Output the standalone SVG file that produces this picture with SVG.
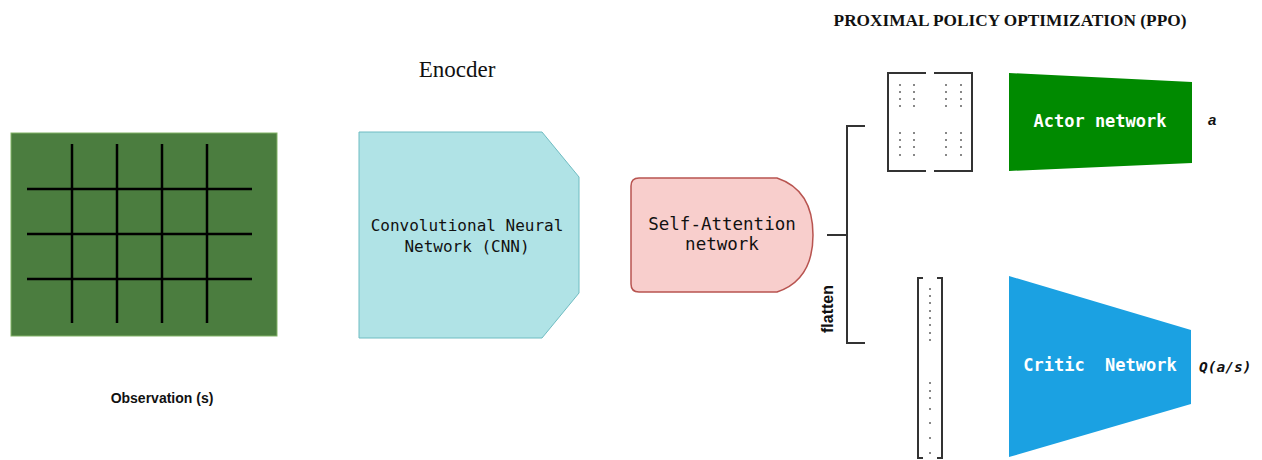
<svg xmlns="http://www.w3.org/2000/svg" width="1262" height="460" viewBox="0 0 1262 460">
<style>
.grid{stroke:#000;stroke-width:2.5;fill:none}
.mono{font-family:"DejaVu Sans Mono","Liberation Mono",monospace;fill:#111}
.wmono{font-family:"DejaVu Sans Mono","Liberation Mono",monospace;fill:#fff;font-weight:bold;font-size:17px}
.sans{font-family:"Liberation Sans",Arial,sans-serif;font-weight:bold;fill:#111}
.serif{font-family:"Liberation Serif","Times New Roman",serif;fill:#111}
.brk{stroke:#333;stroke-width:2;fill:none}
.dot{fill:#888}
</style>
<rect width="1262" height="460" fill="#fff"/>
<text class="serif" x="1010" y="26" font-size="17.3" font-weight="bold" text-anchor="middle">PROXIMAL POLICY OPTIMIZATION (PPO)</text>
<text class="serif" x="457" y="77" font-size="23" text-anchor="middle">Enocder</text>

<g id="observation">
<rect x="11" y="133" width="266" height="203" fill="#4b7d3f" stroke="#82b366" stroke-width="1"/>
<g class="grid">
<line x1="72" y1="144" x2="72" y2="323"/>
<line x1="117" y1="144" x2="117" y2="323"/>
<line x1="162" y1="144" x2="162" y2="323"/>
<line x1="207" y1="144" x2="207" y2="323"/>
<line x1="27" y1="189" x2="252" y2="189"/>
<line x1="27" y1="234" x2="252" y2="234"/>
<line x1="27" y1="279" x2="252" y2="279"/>
</g>
<text class="sans" x="162" y="403" font-size="14" text-anchor="middle">Observation (s)</text>
</g>

<g id="cnn">
<path d="M359,132 L542,132 L579,177 L579,293 L542,338 L359,338 Z" fill="#b0e3e6" stroke="#6fbcc2" stroke-width="1"/>
<text class="mono" x="467" y="231" font-size="16" text-anchor="middle">Convolutional Neural</text>
<text class="mono" x="467" y="252" font-size="16" text-anchor="middle">Network (CNN)</text>
</g>

<g id="self-attention">
<path d="M639,178 L777,178 Q813,190 813,235 Q813,280 777,292 L639,292 Q631,292 631,284 L631,186 Q631,178 639,178 Z" fill="#f8cecc" stroke="#b85450" stroke-width="1.5"/>
<text class="mono" x="722" y="230" font-size="17.5" text-anchor="middle">Self-Attention</text>
<text class="mono" x="722" y="250" font-size="17.5" text-anchor="middle">network</text>
</g>

<g id="connectors">
<path class="brk" d="M865,126 L847,126 L847,343 L865,343"/>
<line class="brk" x1="827" y1="235" x2="847" y2="235"/>
<text class="sans" transform="translate(833,309) rotate(-90)" font-size="16" text-anchor="middle">flatten</text>
</g>

<g id="actor-matrix">
<path class="brk" d="M926,73 L888,73 L888,171 L926,171"/>
<path class="brk" d="M934,73 L972,73 L972,171 L934,171"/>
<g class="dot">
<rect x="899" y="84" width="2" height="2"/><rect x="913" y="84" width="2" height="2"/><rect x="945" y="84" width="2" height="2"/><rect x="960" y="84" width="2" height="2"/>
<rect x="899" y="91" width="2" height="2"/><rect x="913" y="91" width="2" height="2"/><rect x="945" y="91" width="2" height="2"/><rect x="960" y="91" width="2" height="2"/>
<rect x="899" y="98" width="2" height="2"/><rect x="913" y="98" width="2" height="2"/><rect x="945" y="98" width="2" height="2"/><rect x="960" y="98" width="2" height="2"/>
<rect x="899" y="105" width="2" height="2"/><rect x="913" y="105" width="2" height="2"/><rect x="945" y="105" width="2" height="2"/><rect x="960" y="105" width="2" height="2"/>
<rect x="899" y="132" width="2" height="2"/><rect x="913" y="132" width="2" height="2"/><rect x="945" y="132" width="2" height="2"/><rect x="960" y="132" width="2" height="2"/>
<rect x="899" y="139" width="2" height="2"/><rect x="913" y="139" width="2" height="2"/><rect x="945" y="139" width="2" height="2"/><rect x="960" y="139" width="2" height="2"/>
<rect x="899" y="146" width="2" height="2"/><rect x="913" y="146" width="2" height="2"/><rect x="945" y="146" width="2" height="2"/><rect x="960" y="146" width="2" height="2"/>
<rect x="899" y="154" width="2" height="2"/><rect x="913" y="154" width="2" height="2"/><rect x="945" y="154" width="2" height="2"/><rect x="960" y="154" width="2" height="2"/>
</g>
</g>

<g id="critic-vector">
<path class="brk" d="M923,278 L918,278 L918,458 L923,458"/>
<path class="brk" d="M937,278 L942,278 L942,458 L937,458"/>
<g class="dot">
<rect x="929" y="288" width="2" height="2"/><rect x="929" y="295" width="2" height="2"/><rect x="929" y="302" width="2" height="2"/><rect x="929" y="310" width="2" height="2"/>
<rect x="929" y="317" width="2" height="2"/><rect x="929" y="324" width="2" height="2"/><rect x="929" y="332" width="2" height="2"/><rect x="929" y="339" width="2" height="2"/>
<rect x="929" y="382" width="2" height="2"/><rect x="929" y="390" width="2" height="2"/><rect x="929" y="397" width="2" height="2"/><rect x="929" y="408" width="2" height="2"/>
<rect x="929" y="422" width="2" height="2"/><rect x="929" y="437" width="2" height="2"/><rect x="929" y="452" width="2" height="2"/>
</g>
</g>

<g id="actor">
<path d="M1009,73 L1192,82 L1192,163 L1009,171 Z" fill="#008a00"/>
<text class="wmono" x="1100" y="127" text-anchor="middle">Actor network</text>
<text class="sans" x="1208" y="125" font-size="15" font-style="italic">a</text>
</g>

<g id="critic">
<path d="M1009,276 L1191,330 L1191,404 L1009,457 Z" fill="#1ba1e2"/>
<text class="wmono" x="1100" y="371" text-anchor="middle" xml:space="preserve">Critic  Network</text>
<text class="mono" x="1199" y="372" font-size="14.5" font-weight="bold" font-style="italic">Q(a/s)</text>
</g>
</svg>
